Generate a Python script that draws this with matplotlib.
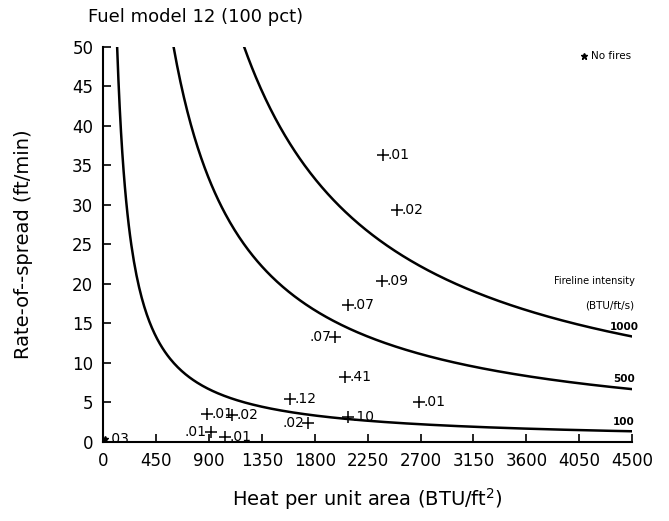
import numpy as np
import matplotlib.pyplot as plt

# observed fires: heat per unit area (BTU/ft2), rate of spread (ft/min), label
heat = [2382, 2501, 2373, 2084, 1974, 2059, 1591, 2688, 885, 1097, 919, 1038, 1744, 2084]
ros = [36.3, 29.4, 20.3, 17.3, 13.3, 8.2, 5.4, 5.1, 3.5, 3.4, 1.2, 0.6, 2.4, 3.2]
labels = [".01", ".02", ".09", ".07", ".07", ".41", ".12", ".01", ".01", ".02", ".01", ".01", ".02", ".10"]
side = ["r", "r", "r", "r", "l", "r", "r", "r", "r", "r", "l", "r", "l", "r"]

# no-fire points
nofire_heat = [15]
nofire_ros = [0.3]
nofire_labels = [".03"]

intensities = [100, 500, 1000]
xticks = np.arange(0, 4501, 450)
yticks = np.arange(0, 51, 5)


def main():
    fig = plt.figure(figsize=(6.69, 5.21), dpi=100)
    ax = fig.add_axes([0.154, 0.152, 0.791, 0.758])

    for I in intensities:
        h = np.linspace(60.0 * I / 50.0, 4500, 400)
        ax.plot(h, 60.0 * I / h, color="black", lw=1.8)
        ax.text(4430, 60.0 * I / 4500 + 0.6, str(I), fontsize=7.5,
                fontweight="bold", ha="center", va="bottom")

    ax.plot(heat, ros, "+", color="black", ms=8, mew=1.1)
    for x, y, s, d in zip(heat, ros, labels, side):
        if d == "r":
            ax.text(x + 35, y, s, fontsize=10, ha="left", va="center")
        else:
            ax.text(x - 35, y, s, fontsize=10, ha="right", va="center")

    ax.plot(nofire_heat, nofire_ros, "*", color="black", ms=5)
    for x, y, s in zip(nofire_heat, nofire_ros, nofire_labels):
        ax.text(x + 20, y, s, fontsize=10, ha="left", va="center")

    ax.plot([4090], [48.9], "*", color="black", ms=5, clip_on=False)
    ax.text(4150, 48.9, "No fires", fontsize=7.5, ha="left", va="center")

    ax.text(4520, 20.3, "Fireline intensity", fontsize=7, ha="right", va="center")
    ax.text(4520, 17.3, "(BTU/ft/s)", fontsize=7.5, ha="right", va="center")

    ax.set_xlim(0, 4500)
    ax.set_ylim(0, 50)
    ax.set_xticks(xticks)
    ax.set_yticks(yticks)
    ax.tick_params(direction="in", length=6, width=1.2, labelsize=12, pad=7)
    for sp in ["top", "right"]:
        ax.spines[sp].set_visible(False)
    ax.spines["left"].set_linewidth(1.5)
    ax.spines["bottom"].set_linewidth(1.5)

    ax.set_xlabel("Heat per unit area (BTU/ft$^2$)", fontsize=14, labelpad=12)
    ax.set_ylabel("Rate-of--spread (ft/min)", fontsize=14, labelpad=28)
    fig.text(0.132, 0.968, "Fuel model 12 (100 pct)", fontsize=13, ha="left", va="center")

    fig.savefig("out.png", dpi=100)


if __name__ == "__main__":
    main()
